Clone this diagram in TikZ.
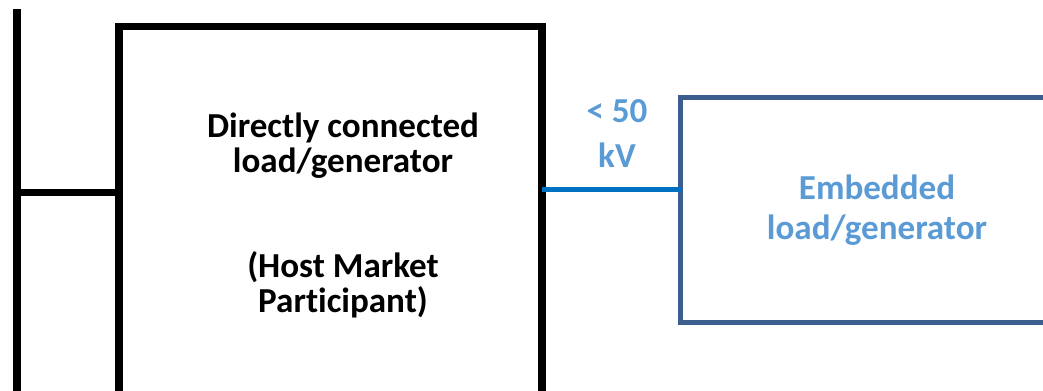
\documentclass[tikz,border=0pt]{standalone}
\usepackage{fontspec}
\setmainfont{Carlito}[Ligatures=NoCommon]
\usetikzlibrary{positioning}
\definecolor{linkblue}{HTML}{0070C0}
\definecolor{labelblue}{HTML}{5B9BD5}
\definecolor{frameblue}{HTML}{3B5E8C}
\begin{document}
\begin{tikzpicture}[
      x=0.75pt, y=-0.75pt,
      font=\bfseries\fontsize{26.3}{26.25}\selectfont,
      bus/.style={draw=black, line width=6pt},
      feeder/.style={draw=black, line width=5.5pt},
      hostbox/.style={draw=black, line width=5.5pt, inner sep=0pt, outer sep=0pt,
                      anchor=north west, minimum width=317.25pt, minimum height=330pt},
      embbox/.style={draw=frameblue, line width=3.75pt, inner sep=0pt, outer sep=0pt,
                     anchor=north west, minimum width=320pt, minimum height=169.1pt},
      link/.style={draw=linkblue, line width=3.6pt},
      hosttext/.style={align=center, anchor=base, text=black},
      embtext/.style={align=center, anchor=base, text=labelblue}
    ]
    \useasboundingbox (0,0) rectangle (1043,391);
    \clip (0,0) rectangle (1043,391);

    % Busbar and the directly connected party.
    \coordinate (bustop) at (16.5,9.5);
    \coordinate (busend) at (16.5,420);
    \draw[bus] (bustop) -- (busend);
    \node[hostbox] (host) at (119,26.5) {};
    \coordinate (tap) at (16.5,192.5);
    \draw[feeder] (tap) -- (tap -| host.west);
    \node[hosttext] (hostname) at (343,173)
      {Directly connected\\load/generator};
    \node[hosttext] (hostrole) at (343,313)
      {(Host Market\\Participant)};

    % Embedded party behind the host.
    \node[embbox] (emb) at (680.5,97.5) {};
    \coordinate (poc) at (542,189.5);
    \draw[link] (poc) -- (poc -| emb.west);
    \node[embtext, font=\bfseries\fontsize{26.3}{33.75}\selectfont] (voltage) at (617,168)
      {< 50\\kV};
    \node[embtext, font=\bfseries\fontsize{26.3}{30}\selectfont] (embname) at (877,240)
      {Embedded\\load/generator};
  \end{tikzpicture}
\end{document}
